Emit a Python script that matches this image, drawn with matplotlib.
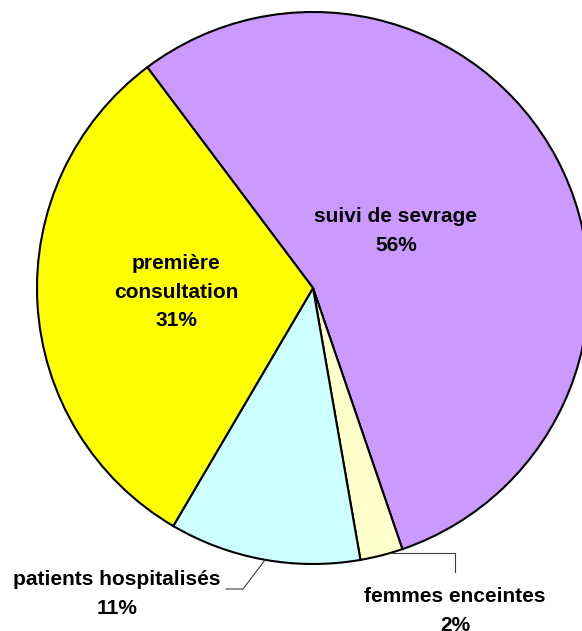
import matplotlib.pyplot as plt

plt.rcParams['font.family'] = ['Liberation Sans', 'DejaVu Sans']

# données
categories = ['suivi de sevrage', 'femmes enceintes', 'patients hospitalisés', 'première consultation']
parts = [55.0, 2.5, 11.2, 31.3]
etiquettes_pct = ['56%', '2%', '11%', '31%']
couleurs = ['#CC99FF', '#FFFFCC', '#CCFFFF', '#FFFF00']

W, H = 582, 631
fig = plt.figure(figsize=(W / 100, H / 100), dpi=100)
ax = fig.add_axes([0, 0, 1, 1])

# pie en coordonnées pixels (y vers le haut)
cx, cy, r = 313, H - 288, 276
ax.pie(parts, colors=couleurs, startangle=126.9, counterclock=False,
       center=(cx, cy), radius=r, frame=True,
       wedgeprops=dict(edgecolor='black', linewidth=1.5))
ax.set_xlim(0, W)
ax.set_ylim(0, H)
ax.set_aspect('equal')
ax.axis('off')

fs = 15
kw = dict(ha='center', va='center', fontsize=fs, fontweight='bold', linespacing=1.65)
ax.text(396, H - 231, 'suivi de sevrage\n' + etiquettes_pct[0], **kw)
ax.text(176, H - 292, 'première\nconsultation\n' + etiquettes_pct[3], **kw)
ax.text(117, H - 594, 'patients hospitalisés\n' + etiquettes_pct[2], **kw)
ax.text(455, H - 611, 'femmes enceintes\n' + etiquettes_pct[1], **kw)

# lignes de rappel
ax.plot([265, 243, 226], [H - 560, H - 589, H - 589], color='#404040', lw=0.8)
ax.plot([390, 455, 455], [H - 553, H - 553, H - 572], color='#404040', lw=0.8)

fig.savefig('out.png', dpi=100)
